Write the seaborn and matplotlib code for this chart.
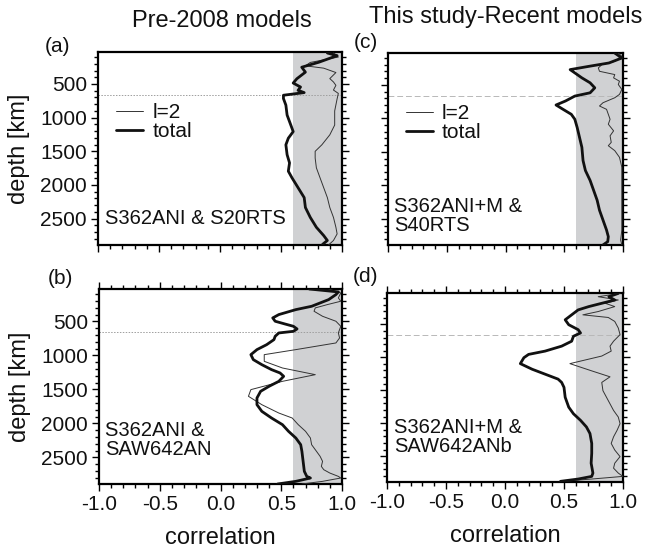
import matplotlib
matplotlib.use("Agg")
import matplotlib.pyplot as plt
import seaborn as sns
from matplotlib.ticker import MultipleLocator

# ---- correlation profiles vs depth (km) ----
# (a) S362ANI & S20RTS
depth_a_total = [40, 79, 177, 251, 324, 422, 486, 545, 594, 628, 667, 716, 814, 961, 1108, 1207,
                 1305, 1403, 1550, 1672, 1795, 1893, 2040, 2187, 2334, 2481, 2628, 2751, 2824, 2883]
corr_a_total = [0.88, 0.96, 0.81, 0.67, 0.70, 0.63, 0.60, 0.66, 0.64, 0.69, 0.52, 0.52, 0.54, 0.55,
                0.58, 0.60, 0.56, 0.54, 0.55, 0.57, 0.56, 0.59, 0.64, 0.69, 0.70, 0.74, 0.79, 0.85,
                0.88, 0.84]
depth_a_l2 = [40, 100, 180, 230, 265, 330, 420, 470, 520, 590, 640, 720, 900, 1110, 1255, 1403, 1500,
              1600, 1745, 1893, 2040, 2187, 2334, 2481, 2628, 2726, 2824, 2890]
corr_a_l2 = [0.93, 0.97, 0.74, 0.70, 0.85, 0.95, 0.90, 0.93, 0.95, 0.93, 0.97, 0.96, 0.94, 0.94,
             0.90, 0.835, 0.78, 0.78, 0.79, 0.82, 0.85, 0.88, 0.90, 0.93, 0.95, 0.96, 0.93, 0.89]

# (b) S362ANI & SAW642AN
depth_b_total = [25, 68, 107, 181, 279, 328, 401, 450, 499, 539, 573, 612, 647, 671, 720, 769, 843,
                 916, 990, 1063, 1137, 1210, 1259, 1308, 1382, 1455, 1529, 1627, 1725, 1823, 1921,
                 2019, 2117, 2215, 2313, 2411, 2558, 2705, 2779, 2803, 2852, 2891]
corr_b_total = [0.73, 0.97, 0.95, 0.89, 0.75, 0.62, 0.48, 0.43, 0.45, 0.53, 0.60, 0.63, 0.60, 0.48,
                0.45, 0.44, 0.38, 0.30, 0.25, 0.27, 0.34, 0.42, 0.49, 0.52, 0.48, 0.40, 0.33, 0.30,
                0.30, 0.34, 0.42, 0.51, 0.56, 0.62, 0.66, 0.67, 0.68, 0.69, 0.71, 0.74, 0.62, 0.47]
depth_b_l2 = [25, 83, 156, 205, 254, 303, 352, 426, 499, 573, 671, 745, 818, 916, 990, 1088, 1186,
              1284, 1382, 1504, 1602, 1725, 1848, 1921, 2019, 2117, 2215, 2313, 2411, 2485, 2558,
              2632, 2681, 2730, 2779, 2803, 2852, 2891]
corr_b_l2 = [0.89, 0.99, 0.97, 0.99, 0.88, 0.78, 0.77, 0.84, 0.95, 0.99, 0.97, 0.98, 0.95, 0.62,
             0.36, 0.36, 0.51, 0.78, 0.51, 0.25, 0.23, 0.34, 0.48, 0.59, 0.64, 0.70, 0.74, 0.75,
             0.79, 0.82, 0.84, 0.83, 0.85, 0.90, 0.97, 0.99, 0.84, 0.67]

# (c) S362ANI+M & S40RTS
depth_c_total = [26, 100, 174, 224, 273, 322, 396, 470, 545, 619, 668, 742, 801, 866, 940, 1014,
                 1137, 1285, 1433, 1631, 1779, 1927, 2075, 2223, 2372, 2520, 2668, 2767, 2841, 2890]
corr_c_total = [0.93, 0.99, 0.88, 0.71, 0.55, 0.59, 0.65, 0.72, 0.76, 0.72, 0.59, 0.51, 0.43, 0.49,
                0.56, 0.59, 0.61, 0.63, 0.65, 0.66, 0.68, 0.72, 0.75, 0.78, 0.80, 0.83, 0.86, 0.875,
                0.87, 0.83]
depth_c_l2 = [26, 75, 150, 199, 248, 298, 347, 396, 446, 495, 569, 643, 693, 767, 816, 866, 940,
              1014, 1088, 1187, 1261, 1359, 1409, 1483, 1582, 1730, 1927, 2174, 2421, 2668, 2816, 2890]
corr_c_l2 = [0.96, 0.99, 0.93, 0.82, 0.79, 0.80, 0.93, 0.92, 0.97, 0.96, 0.99, 0.97, 0.93, 0.83,
             0.80, 0.86, 0.875, 0.89, 0.875, 0.92, 0.89, 0.90, 0.875, 0.93, 0.97, 0.99, 0.99, 0.99,
             0.99, 0.99, 0.98, 0.99]

# (d) S362ANI+M & SAW642ANb
depth_d_total = [31, 81, 131, 181, 231, 281, 356, 431, 506, 581, 631, 681, 756, 831, 906, 956, 1006,
                 1096, 1181, 1256, 1331, 1381, 1456, 1606, 1756, 1856, 1956, 2056, 2156, 2306, 2456,
                 2606, 2756, 2806, 2846, 2881]
corr_d_total = [0.96, 0.88, 0.93, 0.82, 0.71, 0.62, 0.565, 0.51, 0.54, 0.62, 0.64, 0.58, 0.565,
                0.48, 0.34, 0.20, 0.16, 0.13, 0.23, 0.34, 0.45, 0.48, 0.50, 0.51, 0.54, 0.58, 0.64,
                0.69, 0.72, 0.735, 0.735, 0.73, 0.745, 0.735, 0.62, 0.47]
depth_d_l2 = [31, 81, 131, 181, 231, 306, 356, 396, 456, 556, 656, 756, 831, 906, 981, 1096, 1206,
              1296, 1381, 1506, 1656, 1806, 1906, 2006, 2106, 2206, 2306, 2406, 2506, 2606, 2681,
              2756, 2806, 2846, 2881]
corr_d_l2 = [0.975, 0.79, 0.96, 0.85, 0.93, 0.79, 0.66, 0.875, 0.93, 0.96, 0.975, 0.92, 0.89, 0.90,
             0.82, 0.55, 0.735, 0.89, 0.82, 0.83, 0.875, 0.92, 0.96, 0.975, 0.95, 0.92, 0.90, 0.93,
             0.975, 0.93, 0.92, 0.96, 1.0, 0.735, 0.48]

panel_tags = ["(a)", "(b)", "(c)", "(d)"]
pair_names = ["S362ANI & S20RTS", "S362ANI &\nSAW642AN", "S362ANI+M &\nS40RTS", "S362ANI+M &\nSAW642ANb"]
column_titles = ["Pre-2008 models", "This study-Recent models"]
legend_labels = ["l=2", "total"]
depth_ticks = [500, 1000, 1500, 2000, 2500]
corr_ticks = [-1.0, -0.5, 0.0, 0.5, 1.0]
shade_range = (0.6, 1.0)
discontinuity_depth = 660
depth_range = (2891, 25)

sns.set_theme(style="ticks")
plt.rcParams["font.family"] = ["Liberation Sans", "DejaVu Sans"]
plt.rcParams["axes.unicode_minus"] = False
for key in ("text.color", "axes.labelcolor", "xtick.color", "ytick.color", "axes.edgecolor"):
    plt.rcParams[key] = "#111111"

W, H = 648, 549
fig = plt.figure(figsize=(W / 100, H / 100), dpi=100)


def box(x0, y0, x1, y1):
    return [x0 / W, 1 - y1 / H, (x1 - x0) / W, (y1 - y0) / H]


axes_boxes = [box(98, 52, 342, 245), box(99, 289, 342, 484),
              box(388, 53, 623, 245), box(387, 293, 623, 482)]

profiles = [
    (depth_a_l2, corr_a_l2, depth_a_total, corr_a_total),
    (depth_b_l2, corr_b_l2, depth_b_total, corr_b_total),
    (depth_c_l2, corr_c_l2, depth_c_total, corr_c_total),
    (depth_d_l2, corr_d_l2, depth_d_total, corr_d_total),
]
label_pos = [(0.03, 0.135), (0.025, 0.226), (0.026, 0.151), (0.03, 0.238)]

for i, (rect, prof) in enumerate(zip(axes_boxes, profiles)):
    ax = fig.add_axes(rect)
    dl2, cl2, dtot, ctot = prof
    ax.axvspan(*shade_range, color="#d0d1d3", lw=0, zorder=0)
    left_col = i < 2
    ax.axhline(discontinuity_depth, color="0.62" if left_col else "0.72", lw=0.7,
               ls=(0, (1.5, 1.5)) if left_col else (0, (6, 3)), zorder=1)
    sns.lineplot(x=cl2, y=dl2, sort=False, estimator=None, ax=ax, color="#333333",
                 linewidth=0.7, label=legend_labels[0] if i in (0, 2) else None, zorder=3)
    sns.lineplot(x=ctot, y=dtot, sort=False, estimator=None, ax=ax, color="#111111",
                 linewidth=2.0, label=legend_labels[1] if i in (0, 2) else None, zorder=4)
    ax.set_xlim(-1.0, 1.0)
    ax.set_ylim(*depth_range)
    ax.set_xticks(corr_ticks)
    ax.set_yticks(depth_ticks)
    ax.xaxis.set_minor_locator(MultipleLocator(0.1))
    ax.yaxis.set_minor_locator(MultipleLocator(100))
    for s in ax.spines.values():
        s.set_visible(True)
        s.set_linewidth(1.6)
        s.set_color("black")
    top_row = i in (0, 2)
    ax.tick_params(axis="both", which="both", direction="out", width=1.0, color="black",
                   labelsize=15, labelcolor="#111111", top=not top_row, bottom=True, left=True,
                   right=True, labeltop=False, labelright=False, labelbottom=not top_row,
                   labelleft=left_col)
    ax.tick_params(axis="both", which="major", length=5, pad=3)
    ax.tick_params(axis="both", which="minor", length=3)
    ax.set_xlabel("correlation" if not top_row else "", fontsize=17, labelpad=9)
    ax.set_ylabel("depth [km]" if left_col else "", fontsize=17, labelpad=7)
    ax.set_xticklabels([f"{t:.1f}" for t in corr_ticks])
    ax.text(label_pos[i][0], label_pos[i][1], pair_names[i], transform=ax.transAxes,
            fontsize=14.5, ha="left", va="center", linespacing=1.05, zorder=5)
    if top_row:
        ax.legend(loc="upper left", bbox_to_anchor=(0.075, 0.735), frameon=False,
                  fontsize=15, handlelength=1.3, handletextpad=0.45, labelspacing=0.0,
                  borderpad=0, borderaxespad=0)
    elif ax.get_legend() is not None:
        ax.get_legend().remove()

fig.text(222 / W, 1 - 21 / H, column_titles[0], ha="center", va="center", fontsize=17)
fig.text(506 / W, 1 - 17 / H, column_titles[1], ha="center", va="center", fontsize=17)
for tag, (x, y) in zip(panel_tags, [(58, 46), (60, 279), (366, 42), (366, 277)]):
    fig.text(x / W, 1 - y / H, tag, ha="center", va="center", fontsize=15)

fig.savefig("out.png", dpi=100)
